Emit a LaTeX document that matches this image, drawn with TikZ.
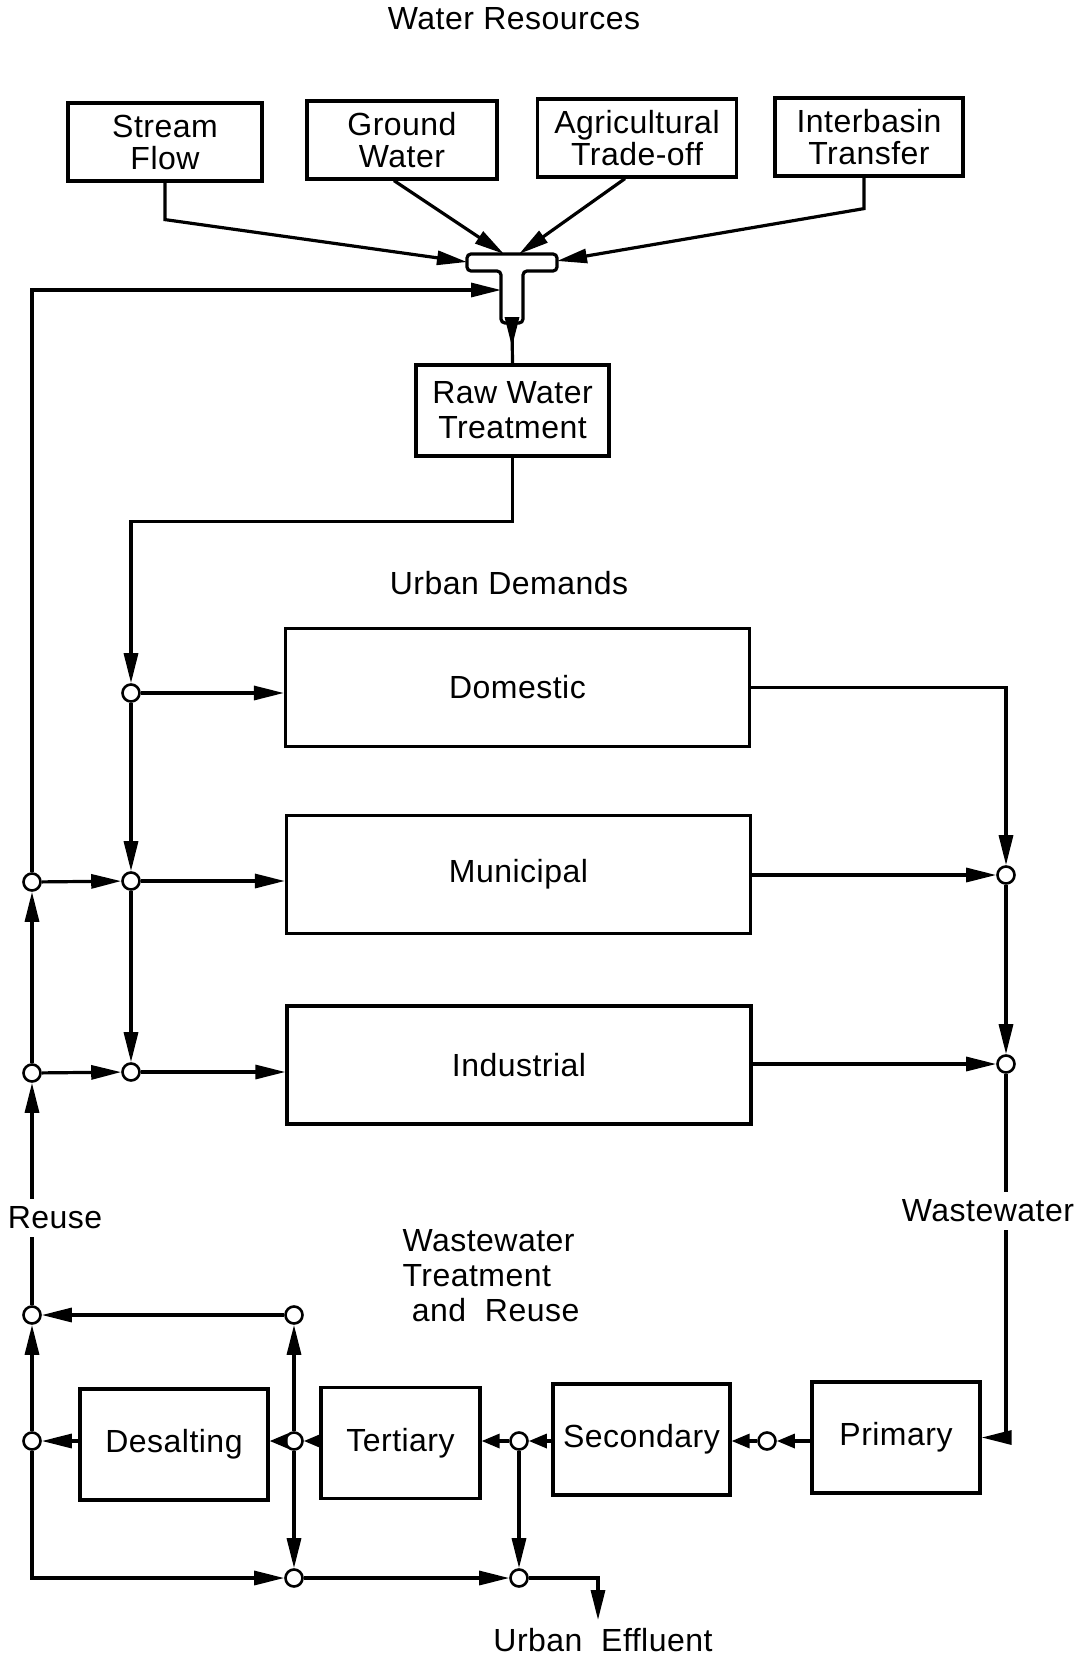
\documentclass[tikz,border=0pt]{standalone}
\usepackage{fontspec}
\setmainfont[LetterSpace=1.5]{Liberation Sans}
\usetikzlibrary{positioning,arrows.meta}

\begin{document}
\begin{tikzpicture}[x=0.5pt, y=-0.5pt, line width=1.6pt,
  >={Triangle[length=15pt,width=7pt]},
  every node/.style={font=\fontsize{16}{17.5}\selectfont},
  blk/.style={draw, line width=1.6pt, align=center, inner sep=2pt},
  src/.style={blk, minimum height=39pt, font=\fontsize{16}{16}\selectfont},
  demand/.style={blk, minimum width=232pt, minimum height=59pt},
  stage/.style={blk, minimum height=55.5pt},
  junc/.style={circle, draw, fill=white, line width=1.3pt, inner sep=0pt, minimum size=8.5pt},
  short/.style={-{Triangle[length=9pt,width=7pt]}}]
  \useasboundingbox (0,0) rectangle (1083,1659);

  % water resources
  \node (wres) at (514,19) {Water Resources};
  \node[src, minimum width=97pt] (sf) at (165,142) {Stream\\Flow};
  \node[src, minimum width=95pt] (gw) at (402,140) {Ground\\Water};
  \node[src, minimum width=99.5pt] (ag) at (637,138) {Agricultural\\Trade-off};
  \node[src, minimum width=94pt] (ib) at (869,137) {Interbasin\\Transfer};

  % T junction
  \draw[rounded corners=2pt] (467,254) -- (557,254) -- (557,271) -- (523,271) -- (523,323)
    -- (501,323) -- (501,271) -- (467,271) -- cycle;
  \coordinate (tL) at (467,262);
  \coordinate (tR) at (557,261);
  \coordinate (tA) at (504,254);
  \coordinate (tB) at (519,254);
  \coordinate (tS) at (501,290);
  \coordinate (tOut) at (512,323);

  \node[blk, minimum width=96.5pt, minimum height=45.5pt] (rw) at (512.5,410.5) {Raw Water\\Treatment};

  % urban demands
  \node (udem) at (509,583) {Urban Demands};
  \node[demand] (dom) at (517.5,687.5) {Domestic};
  \node[demand] (mun) at (518.5,874.5) {Municipal};
  \node[demand] (ind) at (519,1065) {Industrial};

  \node[junc] (d1) at (131,693) {};
  \node[junc] (d2) at (131,881) {};
  \node[junc] (d3) at (131,1072) {};
  \node[junc] (l1) at (32,882) {};
  \node[junc] (l2) at (32,1073) {};
  \node[junc] (r1) at (1006,875) {};
  \node[junc] (r2) at (1006,1064) {};

  % wastewater treatment and reuse
  \node (reuse) at (55,1218) {Reuse};
  \node (ww) at (988,1211) {Wastewater};
  \node[align=left] (wtr) at (491,1276) {Wastewater\\Treatment\\\ and\ \ Reuse};
  \node[stage, minimum width=94pt] (des) at (174,1444.5) {Desalting};
  \node[stage, minimum width=79.5pt] (ter) at (400.5,1443) {Tertiary};
  \node[stage, minimum width=88.5pt] (sec) at (641.5,1439.5) {Secondary};
  \node[stage, minimum width=84pt] (pri) at (896,1437.5) {Primary};

  \node[junc] (p1) at (767,1441) {};
  \node[junc] (p2) at (519,1441) {};
  \node[junc] (p3) at (294,1441) {};
  \node[junc] (p4) at (32,1441) {};
  \node[junc] (u1) at (32,1315) {};
  \node[junc] (u2) at (294,1315) {};
  \node[junc] (b1) at (294,1578) {};
  \node[junc] (b2) at (519,1578) {};
  \node (eff) at (603,1640) {Urban\ \ Effluent};

  % supply side
  \draw[->] (sf.south) -- ++(0,37) -- (tL);
  \draw[->] ([xshift=-4pt]gw.south) -- (tA);
  \draw[->] ([xshift=-6pt]ag.south) -- (tB);
  \draw[->] ([xshift=-2.5pt]ib.south) -- ++(0,31) -- (tR);
  \draw[->] (l1) -- (l1 |- tS) -- (tS);
  \draw (tOut) -- (rw.north);
  \draw[->] (tOut) -- ++(0,24);
  \draw[->] (rw.south) -- ++(0,64) -| (d1);

  % distribution
  \draw[->] (d1) -- (d2);
  \draw[->] (d2) -- (d3);
  \draw[->] (d1) -- (dom.west |- d1);
  \draw[->] (d2) -- (mun.west |- d2);
  \draw[->] (d3) -- (ind.west |- d3);
  \draw[->] (l1) -- (d2);
  \draw[->] (l2) -- (d3);
  \draw[->] (l2) -- (l1);

  % collection
  \draw[->] (dom.east) -| (r1);
  \draw[->] (mun.east |- r1) -- (r1);
  \draw[->] (ind.east |- r2) -- (r2);
  \draw[->] (r1) -- (r2);
  \draw (r2) -- (r2 |- ww.north);
  \draw[->] (r2 |- ww.south) |- (pri.east);

  % treatment chain
  \draw[short] (pri.west |- p1) -- (p1);
  \draw[short] (p1) -- (sec.east |- p1);
  \draw[short] (sec.west |- p2) -- (p2);
  \draw[short] (p2) -- (ter.east |- p2);
  \draw[short] (ter.west |- p3) -- (p3);
  \draw[short] (p3) -- (des.east |- p3);
  \draw[->] (des.west |- p4) -- (p4);
  \draw[->] (p3) -- (u2);
  \draw[->] (u2) -- (u1);
  \draw[->] (p4) -- (u1);
  \draw[->] (p3) -- (b1);
  \draw[->] (p2) -- (b2);
  \draw[->] (p4) |- (b1);
  \draw[->] (b1) -- (b2);
  \draw[->] (b2) -| ([xshift=-2.5pt]eff.north);

  % reuse return
  \draw (u1) -- (u1 |- reuse.south);
  \draw[->] (u1 |- reuse.north) -- (l2);
\end{tikzpicture}
\end{document}
